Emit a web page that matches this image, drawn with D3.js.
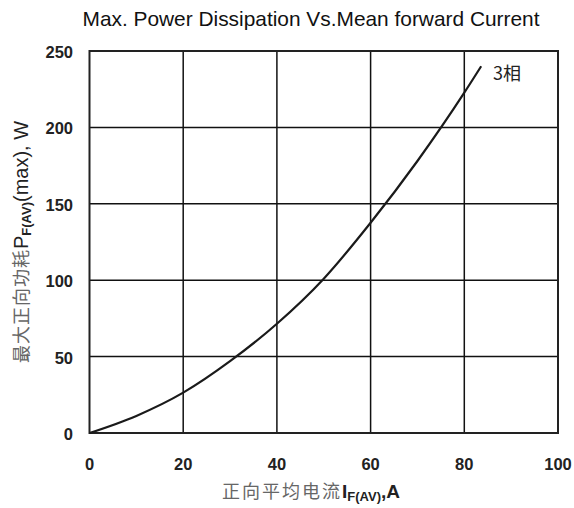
<!DOCTYPE html>
<html>
<head>
<meta charset="utf-8">
<script src="https://cdn.jsdelivr.net/npm/d3@7"></script>
<style>
  body { margin: 0; background: #fff; }
  svg { display: block; }
</style>
</head>
<body>
<svg id="chart" width="574" height="508"></svg>
<script>
    // values
    var current = [0, 10, 20, 30, 40, 50, 60, 70, 80, 83.6];
    var power = [0, 11.2, 26.4, 47, 71.5, 101, 137.6, 178, 222.7, 240];
    var xTicks = [0, 20, 40, 60, 80, 100];
    var yTicks = [0, 50, 100, 150, 200, 250];
    var seriesName = "3相";

    var latin = "Liberation Sans, Arial, sans-serif";
    var cjk = "Noto Sans CJK SC, sans-serif";

    var svg = d3.select("#chart");
    var plotLeft = 89.5, plotRight = 558, plotTop = 51, plotBottom = 433;

    var x = d3.scaleLinear().domain([0, 100]).range([plotLeft, plotRight]);
    var y = d3.scaleLinear().domain([0, 250]).range([plotBottom, plotTop]);

    // grid
    svg.append("g").selectAll("line").data(xTicks.slice(1, -1)).enter()
        .append("line")
        .attr("x1", d => x(d)).attr("x2", d => x(d))
        .attr("y1", plotTop).attr("y2", plotBottom)
        .attr("stroke", "#111").attr("stroke-width", 1.5);

    svg.append("g").selectAll("line").data(yTicks.slice(1, -1)).enter()
        .append("line")
        .attr("x1", plotLeft).attr("x2", plotRight)
        .attr("y1", d => y(d)).attr("y2", d => y(d))
        .attr("stroke", "#111").attr("stroke-width", 1.5);

    // frame
    svg.append("rect")
        .attr("x", plotLeft).attr("y", plotTop)
        .attr("width", plotRight - plotLeft).attr("height", plotBottom - plotTop)
        .attr("fill", "none").attr("stroke", "#222").attr("stroke-width", 2);

    // tick labels
    svg.append("g").selectAll("text").data(yTicks).enter()
        .append("text")
        .attr("x", 73)
        .attr("y", d => y(d) + 7)
        .attr("text-anchor", "end")
        .attr("font-family", latin)
        .attr("font-size", 16.5).attr("font-weight", "bold")
        .attr("fill", "#222")
        .text(d => d);

    svg.append("g").selectAll("text").data(xTicks).enter()
        .append("text")
        .attr("x", d => x(d))
        .attr("y", 469.5)
        .attr("text-anchor", "middle")
        .attr("font-family", latin)
        .attr("font-size", 16.5).attr("font-weight", "bold")
        .attr("fill", "#222")
        .text(d => d);

    // curve
    var line = d3.line()
        .x((d, i) => x(current[i]))
        .y(d => y(d))
        .curve(d3.curveMonotoneX);

    svg.append("path")
        .datum(power)
        .attr("d", line)
        .attr("fill", "none")
        .attr("stroke", "#1a1a1a")
        .attr("stroke-width", 2.2);

    svg.append("text")
        .attr("x", 493).attr("y", 80)
        .attr("font-family", cjk)
        .attr("font-size", 18)
        .attr("fill", "#222")
        .text(seriesName);

    // title
    svg.append("text")
        .attr("x", 311).attr("y", 26)
        .attr("text-anchor", "middle")
        .attr("font-family", latin)
        .attr("font-size", 21)
        .attr("textLength", 457)
        .attr("lengthAdjust", "spacingAndGlyphs")
        .attr("fill", "#111")
        .text("Max. Power Dissipation Vs.Mean forward Current");

    // x axis title
    var xt = svg.append("text")
        .attr("x", 311).attr("y", 498)
        .attr("text-anchor", "middle")
        .attr("font-size", 19);
    xt.append("tspan").attr("font-family", cjk).attr("font-size", 18).attr("letter-spacing", 2).attr("fill", "#666").text("正向平均电流");
    xt.append("tspan").attr("font-family", latin).attr("font-weight", "bold").attr("fill", "#222").text("I");
    xt.append("tspan").attr("font-family", latin).attr("font-weight", "bold").attr("font-size", 13).attr("dy", 3).attr("fill", "#222").text("F(AV)");
    xt.append("tspan").attr("font-family", latin).attr("font-weight", "bold").attr("dy", -3).attr("fill", "#222").text(",A");

    // y axis title
    var yt = svg.append("text")
        .attr("transform", "translate(28,242) rotate(-90)")
        .attr("text-anchor", "middle")
        .attr("font-size", 20);
    yt.append("tspan").attr("font-family", cjk).attr("font-size", 18).attr("letter-spacing", 1).attr("fill", "#666").text("最大正向功耗");
    yt.append("tspan").attr("font-family", latin).attr("fill", "#222").text("P");
    yt.append("tspan").attr("font-family", latin).attr("font-weight", "bold").attr("font-size", 13).attr("dy", 3).attr("fill", "#222").text("F(AV)");
    yt.append("tspan").attr("font-family", latin).attr("dy", -3).attr("fill", "#222").text("(max), W");
</script>
</body>
</html>
